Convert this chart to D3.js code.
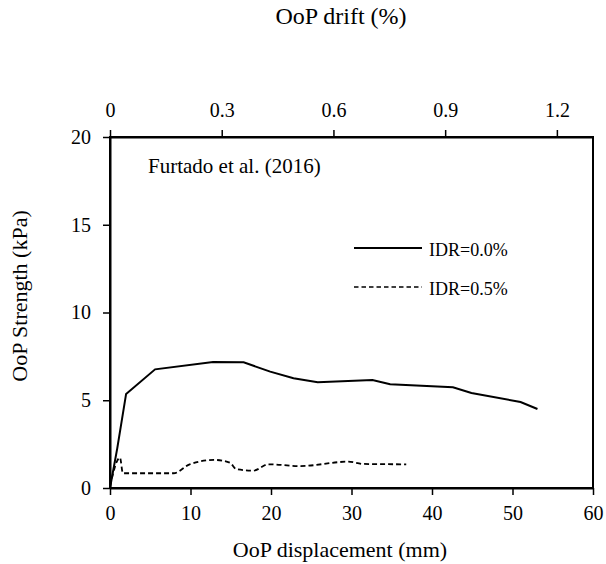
<!DOCTYPE html>
<html>
<head>
<meta charset="utf-8">
<script src="https://cdn.jsdelivr.net/npm/d3@7"></script>
<style>
  body { margin: 0; background: #fff; }
  svg { display: block; }
  text { font-family: "Liberation Serif", "Times New Roman", serif; fill: #000; }
</style>
</head>
<body>
<svg id="chart" width="606" height="564"></svg>
<script>
// OoP displacement (mm) vs OoP strength (kPa), Furtado et al. (2016)
const disp00 = [0, 0.9, 2.0, 5.6, 12.8, 16.6, 19.9, 22.8, 25.8, 32.6, 34.8, 42.6, 44.9, 51.0, 53.1];
const str00  = [0, 2.26, 5.36, 6.76, 7.18, 7.16, 6.63, 6.25, 6.02, 6.15, 5.91, 5.74, 5.41, 4.9, 4.5];

const disp05 = [0, 1.24, 1.6, 7.9, 9.9, 13.0, 14.9, 15.7, 17.8, 19.7, 23.6, 29.6, 31.5, 36.8];
const str05  = [0.1, 1.73, 0.84, 0.84, 1.35, 1.6, 1.44, 1.07, 0.99, 1.35, 1.25, 1.5, 1.37, 1.35];

const xTicks = [0, 10, 20, 30, 40, 50, 60];
const yTicks = [0, 5, 10, 15, 20];
const driftTicks = [0, 0.3, 0.6, 0.9, 1.2];
const seriesNames = ["IDR=0.0%", "IDR=0.5%"];

const svg = d3.select("#chart");
const mLeft = 110, mRight = 593, mTop = 137, mBottom = 488;

const x = d3.scaleLinear().domain([0, 60]).range([mLeft, mRight]);
const xTop = d3.scaleLinear().domain([0, 1.297]).range([mLeft, mRight]);
const y = d3.scaleLinear().domain([0, 20]).range([mBottom, mTop]);

// frame
svg.append("rect")
  .attr("x", mLeft).attr("y", mTop)
  .attr("width", mRight - mLeft).attr("height", mBottom - mTop)
  .attr("fill", "none").attr("stroke", "#000").attr("stroke-width", 2);

function styleAxis(g) {
  g.attr("font-family", null).attr("font-size", null);
  g.selectAll("path").attr("stroke", "#000").attr("stroke-width", 2);
  g.selectAll("line").attr("stroke", "#000").attr("stroke-width", 1.5);
  g.selectAll("text").style("font-family", '"Liberation Serif", serif').style("font-size", "20px").attr("fill", "#000");
}

svg.append("g").attr("transform", `translate(0,${mBottom})`)
  .call(d3.axisBottom(x).tickValues(xTicks).tickSize(7).tickPadding(11).tickSizeOuter(0).tickFormat(d3.format("d")))
  .call(styleAxis);

svg.append("g").attr("transform", `translate(${mLeft},0)`)
  .call(d3.axisLeft(y).tickValues(yTicks).tickSize(7).tickPadding(12).tickSizeOuter(0).tickFormat(d3.format("d")))
  .call(styleAxis);

svg.append("g").attr("transform", `translate(0,${mTop})`)
  .call(d3.axisTop(xTop).tickValues(driftTicks).tickSize(7).tickPadding(13).tickSizeOuter(0)
    .tickFormat(d => d === 0 ? "0" : d3.format(".1f")(d)))
  .call(styleAxis);

// axis titles
svg.append("text").attr("x", 341).attr("y", 24).attr("text-anchor", "middle")
  .style("font-size", "24px").text("OoP drift (%)");
svg.append("text").attr("x", 340).attr("y", 557).attr("text-anchor", "middle")
  .style("font-size", "22px").text("OoP displacement (mm)");
svg.append("text").attr("transform", "translate(27,296) rotate(-90)").attr("text-anchor", "middle")
  .style("font-size", "22px").text("OoP Strength (kPa)");

svg.append("text").attr("x", 148).attr("y", 173).style("font-size", "21px").text("Furtado et al. (2016)");

// curves
const line0 = d3.line().x((d, i) => x(disp00[i])).y((d, i) => y(str00[i]));
const line5 = d3.line().x((d, i) => x(disp05[i])).y((d, i) => y(str05[i])).curve(d3.curveMonotoneX);

svg.append("path").datum(str00).attr("d", line0)
  .attr("fill", "none").attr("stroke", "#000").attr("stroke-width", 2);
svg.append("path").datum(str05).attr("d", line5)
  .attr("fill", "none").attr("stroke", "#000").attr("stroke-width", 1.8).attr("stroke-dasharray", "5,3");

// legend
const legend = svg.append("g");
const legY = [248, 287];
seriesNames.forEach((name, i) => {
  legend.append("line").attr("x1", 354).attr("x2", 422).attr("y1", legY[i]).attr("y2", legY[i])
    .attr("stroke", "#000").attr("stroke-width", i === 0 ? 2 : 1.5)
    .attr("stroke-dasharray", i === 0 ? null : "4.5,3");
  legend.append("text").attr("x", 429).attr("y", legY[i] + 7.5).style("font-size", "18px").text(name);
});
</script>
</body>
</html>
